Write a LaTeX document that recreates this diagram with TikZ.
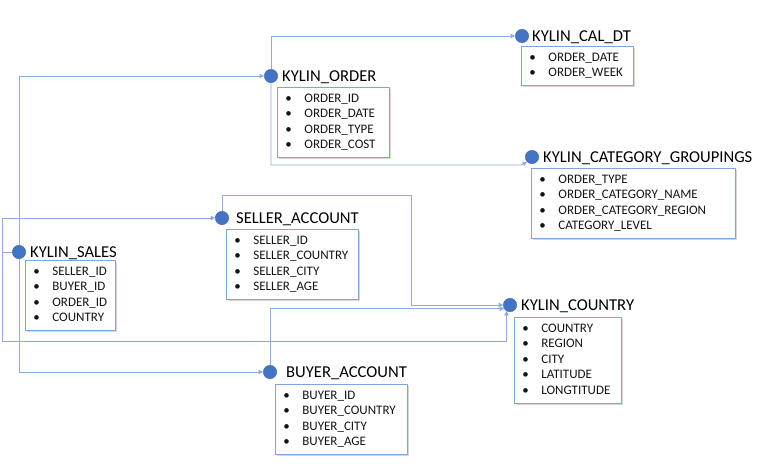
\documentclass[tikz,border=0pt]{standalone}
\usepackage{fontspec}
\setmainfont{Carlito}
\usetikzlibrary{arrows.meta,shadows}
\definecolor{conncol}{HTML}{8FAADC}
\definecolor{dotcol}{HTML}{4472C4}
\definecolor{boxcol}{HTML}{7EA6DC}
\tikzset{
  x=1pt,y=-1pt,
  dot/.style={circle,fill=dotcol,draw=dotcol!85!black,line width=0.3pt,minimum size=13.5pt,inner sep=0pt},
  ttl/.style={anchor=base west,inner sep=0pt,font=\fontsize{16.6}{18}\selectfont,text=black},
  tblbox/.style={anchor=north west,draw=boxcol,line width=0.8pt,fill=white,
    inner xsep=8pt,inner ysep=4pt,align=left,font=\fontsize{13}{15.5}\selectfont,text=black!92,
    drop shadow={shadow xshift=2pt,shadow yshift=-2pt,opacity=0.35,fill=black!45}},
  conn/.style={draw=conncol,line width=0.8pt,-{Triangle[length=4.5pt,width=4.5pt]}},
}
\newcommand\rowsof[1]{\begin{tabular}{@{}p{19pt}@{}l@{}}#1\end{tabular}}
\begin{document}
\begin{tikzpicture}
\useasboundingbox (0,0) rectangle (768,463);
\fill[white] (0,0) rectangle (768,463);
% ---------- tables ----------
% KYLIN_SALES
\node[tblbox,text width=74pt] (salesbox) at (25,260) {\rowsof{\textbullet & SELLER\_ID\\ \textbullet & BUYER\_ID\\ \textbullet & ORDER\_ID\\ \textbullet & COUNTRY}};
\node[dot] (sales) at (19,252) {};
\node[ttl] (salest) at (30,257.5) {KYLIN\_SALES};
% KYLIN_ORDER
\node[tblbox,text width=96pt] (orderbox) at (277,87) {\rowsof{\textbullet & ORDER\_ID\\ \textbullet & ORDER\_DATE\\ \textbullet & ORDER\_TYPE\\ \textbullet & ORDER\_COST}};
\node[dot] (order) at (271,76) {};
\node[ttl] (ordert) at (282,81.5) {KYLIN\_ORDER};
% KYLIN_CAL_DT
\node[tblbox,text width=96pt] (caldtbox) at (521,46) {\rowsof{\textbullet & ORDER\_DATE\\ \textbullet & ORDER\_WEEK}};
\node[dot] (caldt) at (522,36) {};
\node[ttl] (caldtt) at (532,41.5) {KYLIN\_CAL\_DT};
% KYLIN_CATEGORY_GROUPINGS
\node[tblbox,text width=188pt] (catbox) at (531,168) {\rowsof{\textbullet & ORDER\_TYPE\\ \textbullet & ORDER\_CATEGORY\_NAME\\ \textbullet & ORDER\_CATEGORY\_REGION\\ \textbullet & CATEGORY\_LEVEL}};
\node[dot] (cat) at (532,157) {};
\node[ttl] (catt) at (543,162.5) {KYLIN\_CATEGORY\_GROUPINGS};
% SELLER_ACCOUNT
\node[tblbox,text width=116pt] (sellerbox) at (226,229) {\rowsof{\textbullet & SELLER\_ID\\ \textbullet & SELLER\_COUNTRY\\ \textbullet & SELLER\_CITY\\ \textbullet & SELLER\_AGE}};
\node[dot] (seller) at (222,218) {};
\node[ttl] (sellert) at (236,223.5) {SELLER\_ACCOUNT};
% KYLIN_COUNTRY
\node[tblbox,text width=91pt] (countrybox) at (514,317) {\rowsof{\textbullet & COUNTRY\\ \textbullet & REGION\\ \textbullet & CITY\\ \textbullet & LATITUDE\\ \textbullet & LONGTITUDE}};
\node[dot] (country) at (510,305) {};
\node[ttl] (countryt) at (521,310.5) {KYLIN\_COUNTRY};
% BUYER_ACCOUNT
\node[tblbox,text width=116pt] (buyerbox) at (275,384) {\rowsof{\textbullet & BUYER\_ID\\ \textbullet & BUYER\_COUNTRY\\ \textbullet & BUYER\_CITY\\ \textbullet & BUYER\_AGE}};
\node[dot] (buyer) at (270,372) {};
\node[ttl] (buyert) at (286,377.5) {BUYER\_ACCOUNT};
% ---------- connectors ----------
\coordinate (lx) at (2,0);
\coordinate (lowy) at (0,341);
\coordinate (sk) at (411,195);
\coordinate (cgturn) at (521,165);
\draw[conn] (sales) |- (order);
\draw[conn] (sales) |- (buyer);
\draw[conn] (sales.west) -- (sales.west -| lx) |- (seller);
\draw[conn] (sales.west) -- (sales.west -| lx) |- (country.240 |- lowy) -- (country.240);
\draw[conn] (order) |- (caldt);
\draw[conn] (order) |- (cgturn) -- (cat.225);
\draw[conn] (seller) |- (sk) |- (country);
\draw[conn] (buyer) |- (country.212);
\end{tikzpicture}
\end{document}
